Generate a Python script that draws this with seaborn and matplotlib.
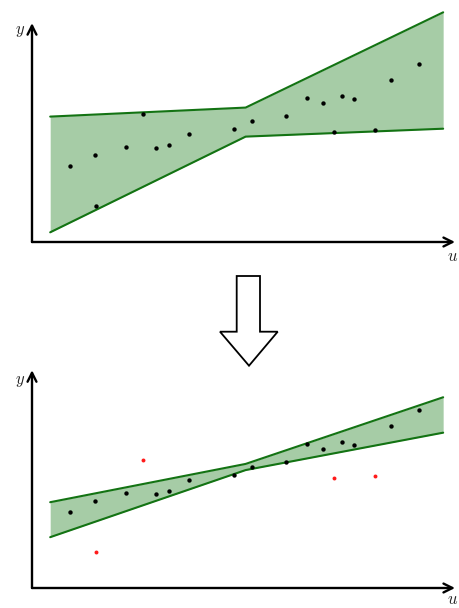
import numpy as np
import pandas as pd
import matplotlib
matplotlib.use("Agg")
import matplotlib.pyplot as plt
import seaborn as sns
from matplotlib.patches import Polygon

# ---------------- data ----------------
u_vals = [0.90, 1.49, 1.51, 2.22, 2.62, 2.92, 3.23, 3.71, 4.77, 5.20,
          6.00, 6.49, 6.87, 7.34, 7.61, 7.14, 8.12, 8.48, 9.16]
y_vals = [3.46, 3.95, 1.64, 4.33, 5.83, 4.29, 4.43, 4.89, 5.14, 5.50,
          5.74, 6.54, 6.30, 6.63, 6.48, 5.00, 5.09, 7.38, 8.08]
outlier = [0, 0, 1, 0, 1, 0, 0, 0, 0, 0,
           0, 0, 0, 0, 0, 1, 1, 0, 0]

band_u = [0.43, 5.05, 9.72]
top_upper = [5.70, 6.11, 10.44]
top_lower = [0.44, 4.79, 5.15]
bot_upper = [3.90, 5.64, 8.67]
bot_lower = [2.31, 5.36, 7.06]

df = pd.DataFrame({"u": u_vals, "y": y_vals, "outlier": outlier})

# ---------------- style ----------------
sns.set_style("white")
plt.rcParams["mathtext.fontset"] = "cm"
plt.rcParams["font.family"] = ["DejaVu Sans"]

FILL = "#a6cca6"
LINE = "#137313"

W, H = 459, 608
fig = plt.figure(figsize=(W / 100, H / 100), dpi=100)


def make_axes(y_origin_px):
    left = 32 / W
    width = 423 / W
    height = 220 / H
    bottom = (H - y_origin_px) / H
    ax = fig.add_axes([left, bottom, width, height])
    ax.set_xlim(0, 10)
    ax.set_ylim(0, 10)
    ax.axis("off")
    return ax


def draw_panel(ax, upper, lower, mark_outliers, ytop, ylab_y, ulab_y):
    ax.fill_between(band_u, lower, upper, color=FILL, lw=0, clip_on=False, zorder=1)
    band = pd.DataFrame({"u": band_u + band_u,
                         "v": list(upper) + list(lower),
                         "side": ["up"] * 3 + ["lo"] * 3})
    sns.lineplot(data=band, x="u", y="v", units="side", estimator=None,
                 color=LINE, lw=1.5, ax=ax, legend=False, clip_on=False,
                 sort=False, zorder=2)
    if mark_outliers:
        inl = df[df.outlier == 0]
        out = df[df.outlier == 1]
        sns.scatterplot(data=inl, x="u", y="y", color="black", s=10, linewidth=0,
                        ax=ax, zorder=3, clip_on=False)
        sns.scatterplot(data=out, x="u", y="y", color="#ff1a1a", s=8, linewidth=0,
                        ax=ax, zorder=3, clip_on=False)
    else:
        sns.scatterplot(data=df, x="u", y="y", color="black", s=10, linewidth=0,
                        ax=ax, zorder=3, clip_on=False)
    arrow = dict(arrowstyle="->", lw=1.7, color="black", mutation_scale=16,
                 shrinkA=0, shrinkB=0)
    ax.annotate("", xy=(10, 0), xytext=(0, 0), arrowprops=arrow,
                annotation_clip=False)
    ax.annotate("", xy=(0, ytop), xytext=(0, 0), arrowprops=arrow,
                annotation_clip=False)
    ax.text(-0.28, ylab_y, "$y$", ha="center", va="center", fontsize=12)
    ax.text(9.95, ulab_y, "$u$", ha="center", va="center", fontsize=12)
    ax.set_xlabel("")
    ax.set_ylabel("")


ax1 = make_axes(242)
draw_panel(ax1, top_upper, top_lower, False, 9.95, 9.64, -0.62)

ax2 = make_axes(588)
draw_panel(ax2, bot_upper, bot_lower, True, 9.9, 9.45, -0.5)

# big hollow arrow between the panels
pts_px = [(236.7, 276), (260, 276), (260, 331.7), (277.7, 331.7),
          (249, 365.7), (220, 331.7), (236.7, 331.7)]
pts = [(x / W, 1 - y / H) for x, y in pts_px]
fig.patches.append(Polygon(pts, closed=True, facecolor="white", edgecolor="black",
                           lw=1.3, transform=fig.transFigure, figure=fig))

fig.savefig("out.png", dpi=100)
